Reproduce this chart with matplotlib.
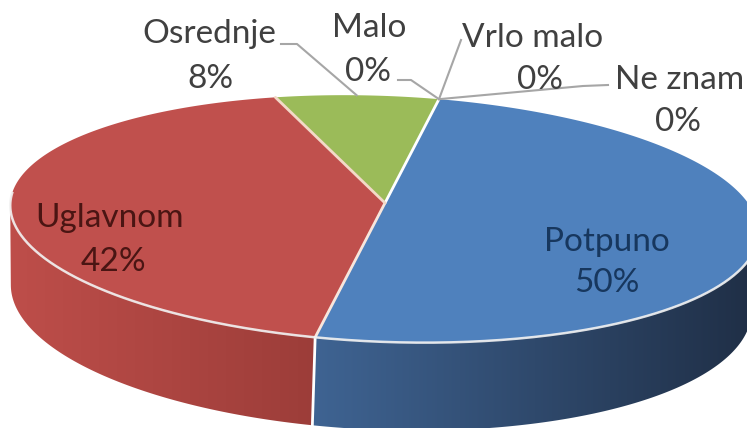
import numpy as np
import matplotlib
matplotlib.use("Agg")
import matplotlib.pyplot as plt
from matplotlib.patches import Polygon

# ---- data ----
categories = ["Potpuno", "Uglavnom", "Osrednje", "Malo", "Vrlo malo", "Ne znam"]
values = [50, 42, 8, 0, 0, 0]
pct_labels = ["50%", "42%", "8%", "0%", "0%", "0%"]

top_colors = ["#4F81BD", "#C0504D", "#9BBB59", "#8064A2", "#4BACC6", "#F79646"]
side_left = ["#3F6493", "#BE4E4A", "#7E9A48", "#6A5288", "#3C8DA3", "#D07C3B"]
side_right = ["#1F2E45", "#9C3D39", "#5E7336", "#4D3B63", "#2C6677", "#A05E2C"]

# ---- projection (3D perspective pie) ----
R_CAM = 7.3
ELEV = np.radians(19.0)
SCALE = 2710.0
CX, CY = 385.0, 203.0
ROT = np.radians(2.3)
START = 8.7
HEIGHT = 0.225

cam = np.array([0.0, R_CAM * np.sin(ELEV), R_CAM * np.cos(ELEV)])
fwd = -cam / np.linalg.norm(cam)
right = np.array([1.0, 0.0, 0.0])
up = np.array([0.0, np.cos(ELEV), -np.sin(ELEV)])


def proj(phi_deg, yh=0.0, r=1.0):
    phi = np.radians(np.atleast_1d(phi_deg))
    P = np.stack([r * np.sin(phi), np.full_like(phi, yh), -r * np.cos(phi)], axis=1)
    d = P - cam
    depth = d @ fwd
    sx = (d @ right) / depth * SCALE
    sy = -(d @ up) / depth * SCALE
    x = CX + sx * np.cos(ROT) - sy * np.sin(ROT)
    y = CY + sx * np.sin(ROT) + sy * np.cos(ROT)
    return x, y


fig = plt.figure(figsize=(7.47, 4.28), dpi=100)
ax = fig.add_axes([0, 0, 1, 1])
ax.axis("off")

total = float(sum(values))
bounds = [START]
for v in values:
    bounds.append(bounds[-1] + 360.0 * v / total)

cth = -1.0 / (R_CAM * np.cos(ELEV))
vis_a = np.degrees(np.arccos(cth))
vis_b = 360 - vis_a


def hex2rgb(h):
    return np.array([int(h[i:i + 2], 16) for i in (1, 3, 5)]) / 255.0

# side walls with horizontal gradient
for i, v in enumerate(values):
    if v <= 0:
        continue
    a, b = bounds[i], bounds[i + 1]
    for off in (0, 360, -360):
        lo = max(a + off, vis_a)
        hi = min(b + off, vis_b)
        if hi <= lo:
            continue
        phis = np.linspace(lo, hi, 200)
        xt, yt = proj(phis, 0.0)
        xb, yb = proj(phis, -HEIGHT)
        pts = list(zip(xt, yt)) + list(zip(xb[::-1], yb[::-1]))
        patch = Polygon(pts, closed=True, facecolor="none", edgecolor="none")
        ax.add_patch(patch)
        xmin, xmax = min(xt.min(), xb.min()) - 2, max(xt.max(), xb.max()) + 2
        ymin, ymax = min(yt.min(), yb.min()) - 2, max(yt.max(), yb.max()) + 2
        t = np.linspace(0, 1, 256)
        cl, cr = hex2rgb(side_left[i]), hex2rgb(side_right[i])
        grad = (cl[None, :] * (1 - t[:, None]) + cr[None, :] * t[:, None])[None, :, :]
        im = ax.imshow(grad, extent=(xmin, xmax, ymax, ymin), aspect="auto",
                       interpolation="bilinear", zorder=1)
        im.set_clip_path(patch)

# vertical white edge at visible slice boundaries
for bnd in bounds:
    bb = bnd % 360
    if vis_a < bb < vis_b:
        x0, y0 = proj(bb, 0.0)
        x1, y1 = proj(bb, -HEIGHT)
        ax.plot([x0[0], x1[0]], [y0[0], y1[0]], color="white", lw=2.0, zorder=2)

# top faces
cxp, cyp = proj(0.0, 0.0, r=0.0)
for i, v in enumerate(values):
    if v <= 0:
        continue
    a, b = bounds[i], bounds[i + 1]
    phis = np.linspace(a, b, max(int((b - a) / 0.5), 2))
    xs, ys = proj(phis, 0.0)
    pts = [(cxp[0], cyp[0])] + list(zip(xs, ys))
    ax.add_patch(Polygon(pts, closed=True, facecolor=top_colors[i],
                         edgecolor="none", zorder=3))

# separators on top
for bnd, col in zip(bounds[:3], ["white", "#F8E6DC", "#F3D9C8"]):
    xe, ye = proj(bnd, 0.0)
    ax.plot([cxp[0], xe[0]], [cyp[0], ye[0]], color=col, lw=2.0, zorder=4,
            solid_capstyle="round")

# front rim highlight
phis = np.linspace(vis_a - 6, vis_b + 6, 300)
xr, yr = proj(phis, 0.0)
ax.plot(xr, yr, color="#F2F2F2", lw=1.8, alpha=0.9, zorder=4)

# ---- labels ----
FONT = "Lato"
label_col = "#404040"
fs = 24

ax.text(110, 218, categories[1], fontsize=fs, family=FONT, color="#4A1513",
        ha="center", va="center", zorder=6)
ax.text(113, 262, pct_labels[1], fontsize=fs, family=FONT, color="#4A1513",
        ha="center", va="center", zorder=6)
ax.text(607, 242, categories[0], fontsize=fs, family=FONT, color="#17375E",
        ha="center", va="center", zorder=6)
ax.text(607, 283, pct_labels[0], fontsize=fs, family=FONT, color="#17375E",
        ha="center", va="center", zorder=6)

mid_osr = 0.5 * (bounds[2] + bounds[3])
ox, oy = proj(mid_osr, 0.0)
zx, zy = proj(bounds[3], 0.0)
lc = "#A6A6A6"

ax.text(209, 34, categories[2], fontsize=fs, family=FONT, color=label_col,
        ha="center", va="center", zorder=6)
ax.text(210, 79, pct_labels[2], fontsize=fs, family=FONT, color=label_col,
        ha="center", va="center", zorder=6)
ax.plot([281, 297, ox[0]], [44, 44, oy[0]], color=lc, lw=1.5, zorder=5)

ax.text(369, 28, categories[3], fontsize=fs, family=FONT, color=label_col,
        ha="center", va="center", zorder=6)
ax.text(368, 72, pct_labels[3], fontsize=fs, family=FONT, color=label_col,
        ha="center", va="center", zorder=6)
ax.plot([398, 411, zx[0]], [80, 80, zy[0]], color=lc, lw=1.5, zorder=5)

ax.text(533, 38, categories[4], fontsize=fs, family=FONT, color=label_col,
        ha="center", va="center", zorder=6)
ax.text(540, 80, pct_labels[4], fontsize=fs, family=FONT, color=label_col,
        ha="center", va="center", zorder=6)
ax.plot([461, zx[0]], [40, zy[0]], color=lc, lw=1.5, zorder=5)

ax.text(680, 80, categories[5], fontsize=fs, family=FONT, color=label_col,
        ha="center", va="center", zorder=6)
ax.text(678, 122, pct_labels[5], fontsize=fs, family=FONT, color=label_col,
        ha="center", va="center", zorder=6)
ax.plot([608, 583, zx[0]], [85, 86, zy[0]], color=lc, lw=1.5, zorder=5)

ax.set_xlim(0, 747)
ax.set_ylim(428, 0)
fig.savefig("out.png", dpi=100, facecolor="white")
